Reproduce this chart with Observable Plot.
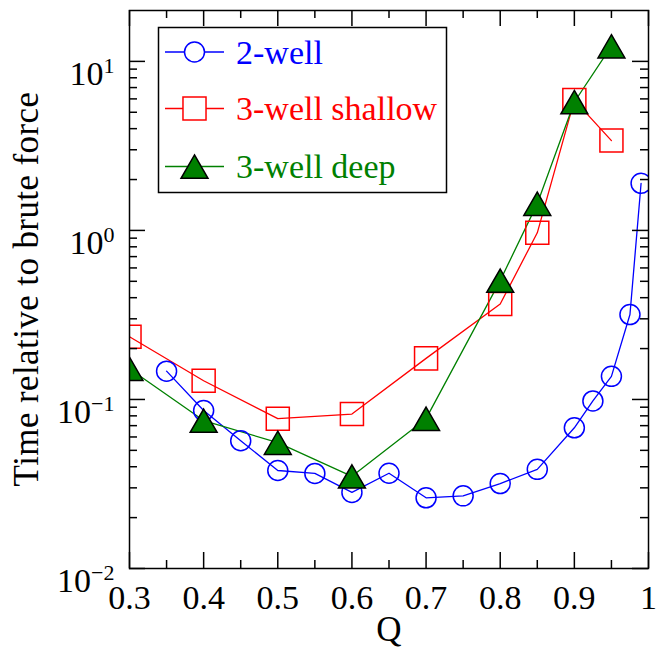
<!DOCTYPE html>
<html><head><meta charset="utf-8">
<script src="https://cdn.jsdelivr.net/npm/d3@7"></script>
<script src="https://cdn.jsdelivr.net/npm/@observablehq/plot@0.6"></script>
<style>body{margin:0;background:#fff;}</style>
</head><body><div id="chart"></div>
<script>
// ---- data ----
const qTwoWell = [0.35,0.4,0.45,0.5,0.55,0.6,0.65,0.7,0.75,0.8,0.85,0.9,0.925,0.95,0.975,0.99];
const tTwoWell = [0.147,0.086,0.057,0.038,0.0365,0.0282,0.0366,0.0262,0.0269,0.0318,0.0386,0.068,0.098,0.137,0.318,1.90];
const qThreeWell = [0.3,0.4,0.5,0.6,0.7,0.8,0.85,0.9,0.95];
const tShallow = [0.235,0.129,0.077,0.082,0.175,0.367,0.968,5.9,3.4];
const tDeep = [0.152,0.075,0.0555,0.0351,0.077,0.505,1.44,5.75,12.3];
const seriesNames = ["2-well","3-well shallow","3-well deep"];
const seriesColors = ["#0000ff","#ff0000","#008000"];
const xMajorTicks = [0.3,0.4,0.5,0.6,0.7,0.8,0.9,1];
const xMinorTicks = [0.35,0.45,0.55,0.65,0.75,0.85,0.95];
const yMajorTicks = [0.01,0.1,1,10];
const yMinorTicks = [0.02,0.03,0.04,0.05,0.06,0.07,0.08,0.09,0.2,0.3,0.4,0.5,0.6,0.7,0.8,0.9,2,3,4,5,6,7,8,9];
const xLabel = "Q";
const yLabel = "Time relative to brute force";

const twoWell = qTwoWell.map((q,i)=>({q, t:tTwoWell[i]}));
const shallow = qThreeWell.map((q,i)=>({q, t:tShallow[i]}));
const deep = qThreeWell.map((q,i)=>({q, t:tDeep[i]}));

const FONT = "'Liberation Serif', 'Times New Roman', serif";
const lw = 1.3;
const W = 664, H = 652, MT = 10, MB = 84, ML = 129, MR = 16;
const FW = W - ML - MR, FH = H - MT - MB;

// inward-pointing ticks on all four sides: short rules inset from the frame edges
const tickMarks = [];
for (const [tv, len] of [[xMajorTicks, 16], [xMinorTicks, 8]]) {
  tickMarks.push(Plot.ruleX(tv, {x: d => d, insetTop: FH - len, stroke: "black", strokeWidth: 1.5}));
  tickMarks.push(Plot.ruleX(tv, {x: d => d, insetBottom: FH - len, stroke: "black", strokeWidth: 1.5}));
}
for (const [tv, len] of [[yMajorTicks, 16], [yMinorTicks, 8]]) {
  tickMarks.push(Plot.ruleY(tv, {y: d => d, insetRight: FW - len, stroke: "black", strokeWidth: 1.5}));
  tickMarks.push(Plot.ruleY(tv, {y: d => d, insetLeft: FW - len, stroke: "black", strokeWidth: 1.5}));
}

const svg = Plot.plot({
  width: W, height: H,
  marginTop: MT, marginBottom: MB, marginLeft: ML, marginRight: MR,
  style: `font-family: ${FONT}; font-size: 34px;`,
  x: {domain: [0.3, 1]},
  y: {type: "log", domain: [0.01, 20]},
  marks: [
    Plot.line(twoWell, {x:"q", y:"t", stroke: seriesColors[0], strokeWidth: lw, clip: true}),
    Plot.line(shallow, {x:"q", y:"t", stroke: seriesColors[1], strokeWidth: lw, clip: true}),
    Plot.line(deep, {x:"q", y:"t", stroke: seriesColors[2], strokeWidth: lw, clip: true}),
    Plot.dot(twoWell, {x:"q", y:"t", symbol:"circle", r: 10, stroke: seriesColors[0], fill:"none", strokeWidth: 1.5, clip: true}),
    Plot.dot(shallow, {x:"q", y:"t", symbol:"square", r: 13, stroke: seriesColors[1], fill:"none", strokeWidth: 1.5, clip: true}),
    Plot.dot(deep, {x:"q", y:"t", symbol:"triangle", r: 10, dy: 4, stroke: "#000", fill: seriesColors[2], strokeWidth: 1.5, clip: true}),
    ...tickMarks,
    Plot.axisX({anchor:"bottom", ticks: xMajorTicks, tickSize: 0, tickPadding: 16, fontSize: 34, label: null,
      tickFormat: d => d === 1 ? "1" : d.toFixed(1)}),
    Plot.axisY({anchor:"left", ticks: yMajorTicks, tickSize: 0, tickPadding: 15, fontSize: 34, label: null,
      tickFormat: d => String(Math.round(Math.log10(d)))}),
    Plot.text([xLabel], {text: d => d, frameAnchor: "bottom", dy: 72, fontSize: 35}),
    Plot.frame({stroke: "black", strokeWidth: 1.5})
  ]
});
document.getElementById("chart").appendChild(svg);
const S = d3.select(svg);

// superscript exponents for the log-axis labels
S.selectAll('g[aria-label="y-axis tick label"] text').each(function() {
  const e = this.textContent.replace("-", "\u2212");
  if (!e) return;
  const t = d3.select(this);
  t.text(null).attr("dy", "0.38em");
  t.append("tspan").text("10");
  t.append("tspan").attr("dy", -12).attr("font-size", 22).text(e);
});

// y-axis title
S.append("text").attr("transform", "translate(27,289) rotate(-90)")
  .attr("text-anchor", "middle").attr("dy", "0.32em").attr("letter-spacing", 0.4)
  .attr("font-family", FONT).attr("font-size", 35).attr("fill", "#000").text(yLabel);

// legend box inside the frame
const lg = S.append("g").attr("font-family", FONT).attr("font-size", 34).attr("text-anchor", "start");
lg.append("rect").attr("x", 158.5).attr("y", 27.5).attr("width", 288).attr("height", 165)
  .attr("fill", "#fff").attr("stroke", "#000").attr("stroke-width", 1.5);
const rowY = [52, 108.5, 166.5];
const symbols = [d3.symbolCircle, d3.symbolSquare, d3.symbolTriangle];
const sizes = [Math.PI*100, Math.PI*169, Math.PI*100];
seriesNames.forEach((name, i) => {
  const g = lg.append("g").attr("transform", `translate(0,${rowY[i]})`);
  g.append("line").attr("x1", 165).attr("x2", 224).attr("stroke", seriesColors[i]).attr("stroke-width", lw);
  g.append("path").attr("transform", `translate(194.5,${i===2?4:0})`)
    .attr("d", d3.symbol(symbols[i], sizes[i])())
    .attr("fill", i===2 ? seriesColors[2] : "#fff").attr("stroke", i===2 ? "#000" : seriesColors[i]).attr("stroke-width", 1.5);
  g.append("text").attr("x", 236).attr("dy", "0.34em").attr("fill", seriesColors[i]).text(name);
});
</script></body></html>
